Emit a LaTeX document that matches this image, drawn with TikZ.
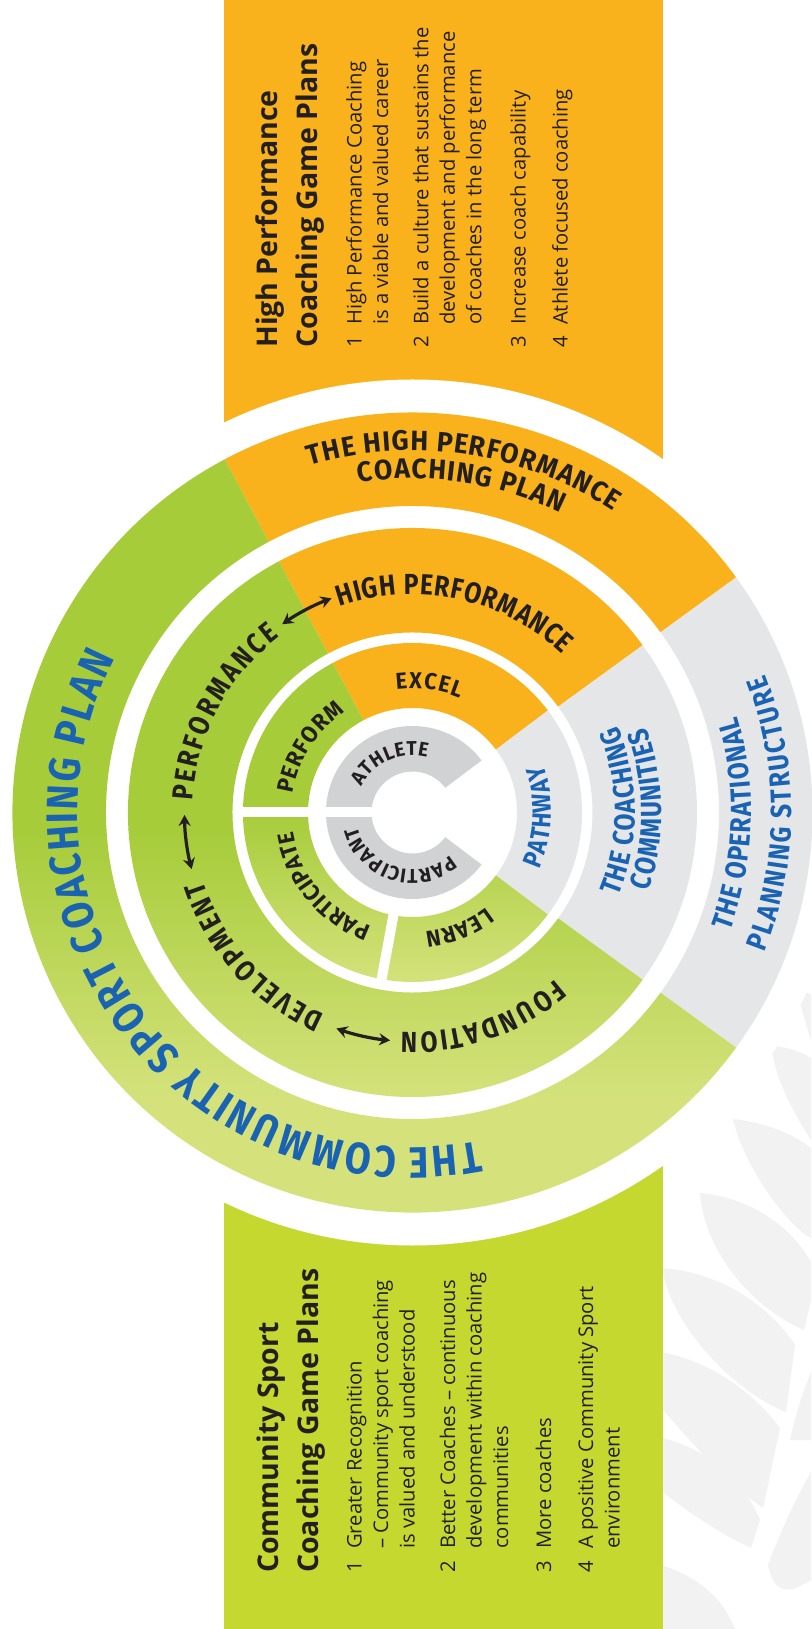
\documentclass[tikz,border=0pt]{standalone}
\usepackage{fontspec}
\setmainfont{Open Sans}
\newfontfamily\boxfont{Open Sans}
\newfontfamily\ringfont{Fira Sans}[FakeStretch=0.85]
\newfontfamily\ringwide{Fira Sans}[FakeStretch=0.95]
\usetikzlibrary{decorations.text,arrows.meta}

\definecolor{hporange}{HTML}{F9B21B}
\definecolor{gdark}{HTML}{A6CC3A}
\definecolor{glight}{HTML}{D5E27C}
\definecolor{boxgreen}{HTML}{C5D82F}
\definecolor{paleg}{HTML}{E5E6E8}
\definecolor{midg}{HTML}{D1D2D4}
\definecolor{ink}{HTML}{231F20}
\definecolor{csblue}{HTML}{1A63B3}
\definecolor{leafgrey}{HTML}{F2F2F3}

% annular sector: start angle, end angle, outer radius, inner radius
\newcommand\sector[4]{(#1:#3) arc[start angle=#1,end angle=#2,radius=#3] -- (#2:#4) arc[start angle=#2,end angle=#1,radius=#4] -- cycle}

% text spread along an arc: style, radius, start angle, end angle, text
\newcommand\ringtext[5]{%
  \path[decorate,decoration={text effects along path,text={#5},
      text effects/.cd,text along path,fit text to path,characters={#1}}]
    (#3:#2) arc[start angle=#3,end angle=#4,radius=#2];}

% screen position (x right, y down from the top left corner) to picture coordinates
\newcommand\scr[2]{({#1-412.5},{812.5-#2})}

\tikzset{
  boxhead/.style={font=\boxfont\bfseries\fontsize{28.5}{30}\selectfont,text=ink,inner sep=0pt,anchor=base west,rotate=90},
  boxbody/.style={font=\boxfont\fontsize{20.2}{22}\selectfont,text=ink,inner sep=0pt,anchor=base west,rotate=90},
  lblouter/.style={text=ink,font=\ringwide\bfseries\fontsize{28}{28}\selectfont},
  lblblueA/.style={text=csblue,font=\ringfont\bfseries\fontsize{29}{29}\selectfont},
  lblbig/.style={text=csblue,font=\ringfont\bfseries\fontsize{44}{44}\selectfont},
  lblmid/.style={text=ink,font=\ringfont\bfseries\fontsize{29}{29}\selectfont},
  lblinner/.style={text=ink,font=\ringwide\bfseries\fontsize{23}{23}\selectfont},
  lblpath/.style={text=csblue,font=\ringfont\bfseries\fontsize{26.5}{26.5}\selectfont},
  lblcore/.style={text=ink,font=\ringwide\bfseries\fontsize{20}{20}\selectfont},
  dblarrow/.style={draw=ink,line width=3.2pt,{Stealth[length=11pt,width=12pt]}-{Stealth[length=11pt,width=12pt]}},
}

\begin{document}
\begin{tikzpicture}[x=1pt,y=1pt]
\useasboundingbox (-412.5,-816.5) rectangle (398.5,812.5);
\fill[white] (-412.5,-816.5) rectangle (398.5,812.5);

% fern fronds in the lower right corner
\begin{scope}[leafgrey]
  \clip (250.5,-816.5) rectangle (398.5,-100);
  \fill \scr{798}{990} .. controls \scr{803}{990} and \scr{808}{993} .. \scr{811}{995} -- \scr{811}{1040} .. controls \scr{806}{1025} and \scr{800}{1005} .. cycle;
  \fill \scr{771}{1045} .. controls \scr{790}{1048} and \scr{802}{1052} .. \scr{811}{1058} -- \scr{811}{1140} .. controls \scr{795}{1115} and \scr{775}{1080} .. cycle;
  \fill \scr{733}{1119} .. controls \scr{765}{1123} and \scr{790}{1132} .. \scr{811}{1148} -- \scr{811}{1238} .. controls \scr{790}{1228} and \scr{745}{1170} .. cycle;
  \fill \scr{700}{1193} .. controls \scr{750}{1198} and \scr{790}{1225} .. \scr{811}{1262} -- \scr{811}{1300} -- \scr{804}{1330} .. controls \scr{760}{1312} and \scr{705}{1258} .. cycle;
  \fill \scr{662}{1268} .. controls \scr{715}{1272} and \scr{765}{1300} .. \scr{795}{1345} -- \scr{786}{1412} .. controls \scr{740}{1395} and \scr{672}{1330} .. cycle;
  \fill \scr{650}{1350} .. controls \scr{705}{1358} and \scr{750}{1388} .. \scr{780}{1428} -- \scr{763}{1508} .. controls \scr{722}{1480} and \scr{672}{1420} .. \scr{650}{1395} -- cycle;
  \fill \scr{650}{1435} .. controls \scr{700}{1445} and \scr{740}{1472} .. \scr{760}{1520} -- \scr{751}{1548} .. controls \scr{712}{1530} and \scr{672}{1500} .. \scr{650}{1482} -- cycle;
  \fill \scr{650}{1562} .. controls \scr{690}{1572} and \scr{720}{1592} .. \scr{735}{1629} -- \scr{650}{1629} -- cycle;
  \fill \scr{790}{1440} .. controls \scr{796}{1412} and \scr{803}{1392} .. \scr{811}{1372} -- \scr{811}{1440} -- cycle;
  \fill \scr{768}{1565} .. controls \scr{783}{1525} and \scr{798}{1495} .. \scr{811}{1472} -- \scr{811}{1580} .. controls \scr{795}{1590} and \scr{775}{1600} .. cycle;
\end{scope}

% panels behind the wheel
\fill[hporange] (-188.5,812.5) rectangle (250.5,0);
\fill[boxgreen] (-188.5,0) rectangle (250.5,-816.5);
\fill[white] (0,0) circle[radius=433];

% outer and middle rings
\fill[hporange] \sector{36}{118}{400}{306.5};
\fill[paleg] \sector{-36}{36}{400}{306.5};
\fill[hporange] \sector{36}{118}{284.5}{180};
\fill[paleg] \sector{-36}{36}{284.5}{180};
\begin{scope}
  \clip \sector{118}{324}{400}{306.5} \sector{118}{324}{284.5}{180};
  \fill[gdark] (-420,420) rectangle (420,-18);
  \shade[top color=gdark,bottom color=glight] (-420,-17) rectangle (420,-288);
  \fill[glight] (-420,-287) rectangle (420,-420);
\end{scope}

% inner ring
\fill[hporange] \sector{37}{118}{169.5}{104.5};
\fill[paleg] \sector{-37}{37}{169.5}{104.5};
\begin{scope}
  \clip \sector{118}{323}{169.5}{104.5};
  \fill[gdark] (-200,200) rectangle (200,0);
  \shade[top color=gdark,bottom color=glight] (-200,1) rectangle (200,-172);
  \fill[glight] (-200,-171) rectangle (200,-200);
\end{scope}

% athlete / participant core
\fill[midg] \sector{37}{323}{86.5}{41};
\draw[white,line width=10pt] (180:35) -- (180:175);
\draw[white,line width=10pt] (259.5:95) -- (259.5:175);

% ring labels
\ringtext{lblouter}{362}{106.5}{56.3}{THE HIGH PERFORMANCE}
\ringtext{lblouter}{334}{99.3}{63.7}{COACHING PLAN}
\ringtext{lblblueA}{339}{-20.5}{16.5}{THE OPERATIONAL}
\ringtext{lblblueA}{379}{-21.7}{21.4}{PLANNING STRUCTURE}
\ringtext{lblbig}{335}{281.3}{152.5}{THE COMMUNITY SPORT COACHING PLAN}

\ringtext{lblmid}{218}{109.5}{46.5}{HIGH PERFORMANCE}
\ringtext{lblmid}{220}{177}{127}{PERFORMANCE}
\ringtext{lblmid}{220}{246.5}{198}{DEVELOPMENT}
\ringtext{lblmid}{220}{310.5}{267}{FOUNDATION}
\ringtext{lblblueA}{222.5}{-22.3}{22.9}{THE COACHING}
\ringtext{lblblueA}{249}{-18.4}{20.1}{COMMUNITIES}

\ringtext{lblinner}{124}{97.5}{67.5}{EXCEL}
\ringtext{lblinner}{121}{171}{124}{PERFORM}
\ringtext{lblinner}{121}{250}{189}{PARTICIPATE}
\ringtext{lblinner}{120}{308}{276}{LEARN}
\ringtext{lblpath}{139}{-24}{20}{PATHWAY}

\ringtext{lblcore}{57}{153}{75}{ATHLETE}
\ringtext{lblcore}{57}{311}{194}{PARTICIPANT}

% two-way arrows between the stages
\draw[dblarrow] (124.7:229) arc[start angle=124.7,end angle=110.7,radius=229];
\draw[dblarrow] (180.6:228) arc[start angle=180.6,end angle=194.4,radius=228];
\draw[dblarrow] (250.6:229) arc[start angle=250.6,end angle=264.4,radius=229];

% high performance game plans
\node[boxhead] (hph1) at (-134.5,464.5) {High Performance};
\node[boxhead] (hph2) at (-94.5,464.5) {Coaching Game Plans};
\node[boxbody] (hpn1) at (-50.8,464.5) {1};
\node[boxbody] (hpa1) at (-50.8,487.5) {High Performance Coaching};
\node[boxbody] (hpa2) at (-24.3,487.5) {is a viable and valued career};
\node[boxbody] (hpn2) at (15.8,464.5) {2};
\node[boxbody] (hpb1) at (15.8,487.5) {Build a culture that sustains the};
\node[boxbody] (hpb2) at (42.3,487.5) {development and performance};
\node[boxbody] (hpb3) at (68.8,487.5) {of coaches in the long term};
\node[boxbody] (hpn3) at (113,464.5) {3};
\node[boxbody] (hpc1) at (113,487.5) {Increase coach capability};
\node[boxbody] (hpn4) at (155,464.5) {4};
\node[boxbody] (hpd1) at (155,487.5) {Athlete focused coaching};

% community sport game plans
\node[boxhead] (csh1) at (-134.2,-760.5) {Community Sport};
\node[boxhead] (csh2) at (-94.2,-760.5) {Coaching Game Plans};
\node[boxbody] (csn1) at (-50.8,-760.5) {1};
\node[boxbody] (csa1) at (-50.8,-736.5) {Greater Recognition};
\node[boxbody] (csa2) at (-24.3,-736.5) {– Community sport coaching};
\node[boxbody] (csa3) at (2.2,-736.5) {is valued and understood};
\node[boxbody] (csn2) at (42.5,-760.5) {2};
\node[boxbody] (csb1) at (42.5,-736.5) {Better Coaches – continuous};
\node[boxbody] (csb2) at (69,-736.5) {development within coaching};
\node[boxbody] (csb3) at (95.5,-736.5) {communities};
\node[boxbody] (csn3) at (138.5,-760.5) {3};
\node[boxbody] (csc1) at (138.5,-736.5) {More coaches};
\node[boxbody] (csn4) at (180.5,-760.5) {4};
\node[boxbody] (csd1) at (180.5,-736.5) {A positive Community Sport};
\node[boxbody] (csd2) at (207,-736.5) {environment};
\end{tikzpicture}
\end{document}
